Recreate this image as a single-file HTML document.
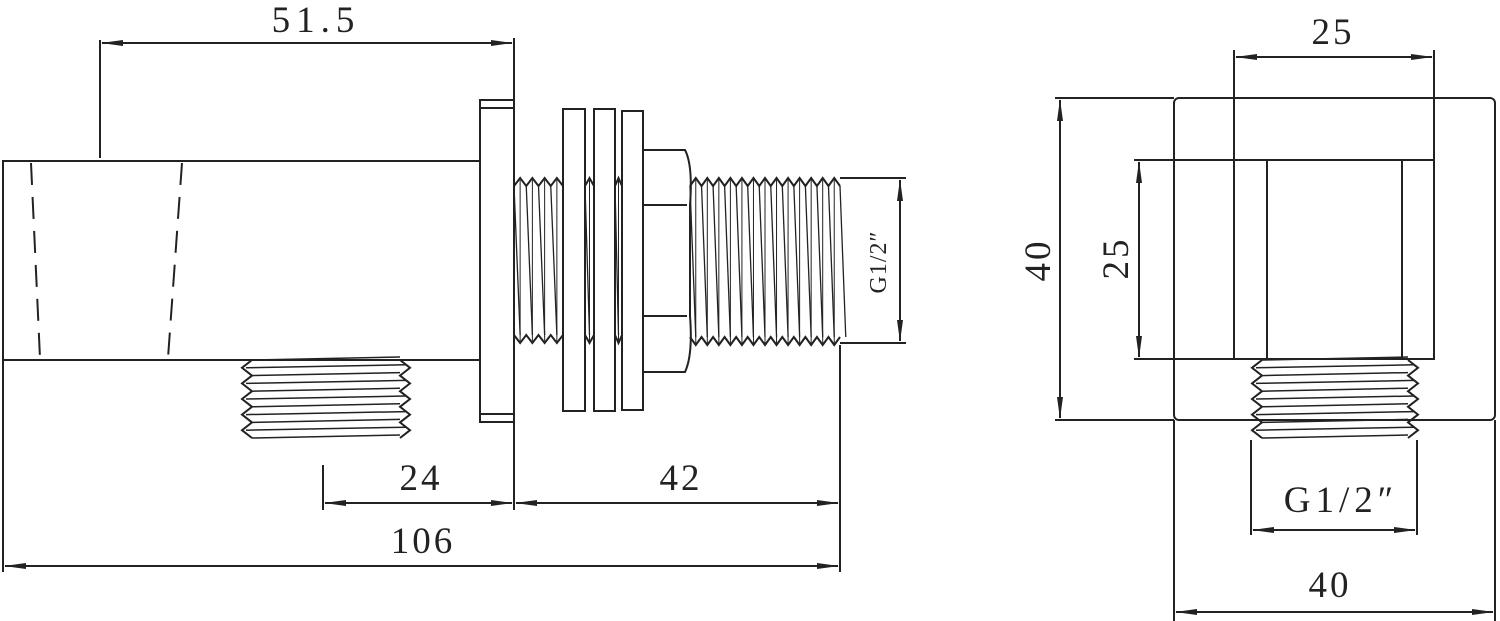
<!DOCTYPE html>
<html><head><meta charset="utf-8"><style>
html,body{margin:0;padding:0;background:#fff;}
svg{display:block}
text{font-family:"Liberation Serif",serif;fill:#222}
</style></head><body>
<svg id="s" width="1500" height="621" viewBox="0 0 1500 621" xmlns="http://www.w3.org/2000/svg">
<defs>
<marker id="a" markerWidth="22" markerHeight="8" refX="21" refY="4" orient="auto" markerUnits="userSpaceOnUse"><path d="M0,1 L22,4 L0,7 Z" fill="#222"/></marker>
<marker id="b" markerWidth="22" markerHeight="8" refX="1" refY="4" orient="auto" markerUnits="userSpaceOnUse"><path d="M22,1 L0,4 L22,7 Z" fill="#222"/></marker>
</defs>
<g stroke="#222" stroke-width="2" fill="none" id="g">
<rect x="3" y="161" width="477" height="199"/>
<line x1="31" y1="163" x2="40" y2="358" stroke-dasharray="22,12"/>
<line x1="182" y1="163" x2="168" y2="358" stroke-dasharray="22,12"/>
<rect x="480" y="100" width="34" height="322"/>
<line x1="480" y1="108" x2="514" y2="108"/>
<line x1="480" y1="414" x2="514" y2="414"/>
<path d="M643,150 L685,150 Q693,165 690,205 Q690,240 690,260 Q690,300 690,316 Q693,355 685,372 L643,372"/>
<line x1="643" y1="205" x2="687" y2="205"/>
<line x1="643" y1="316" x2="687" y2="316"/>
<line x1="100" y1="40" x2="100" y2="158"/>
<line x1="514" y1="38" x2="514" y2="100"/>
<line x1="102" y1="43" x2="512" y2="43" marker-start="url(#b)" marker-end="url(#a)"/>
<line x1="840" y1="178" x2="906" y2="178"/>
<line x1="840" y1="343" x2="906" y2="343"/>
<line x1="900" y1="180" x2="900" y2="341" marker-start="url(#b)" marker-end="url(#a)"/>
<line x1="323" y1="465" x2="323" y2="510"/>
<line x1="514" y1="422" x2="514" y2="510"/>
<line x1="840" y1="345" x2="840" y2="572"/>
<line x1="3" y1="360" x2="3" y2="572"/>
<line x1="325" y1="503" x2="512" y2="503" marker-start="url(#b)" marker-end="url(#a)"/>
<line x1="516" y1="503" x2="838" y2="503" marker-start="url(#b)" marker-end="url(#a)"/>
<line x1="5" y1="566" x2="838" y2="566" marker-start="url(#b)" marker-end="url(#a)"/>
<rect x="1174" y="98" width="321" height="322" rx="5"/>
<line x1="1055" y1="98" x2="1174" y2="98"/>
<line x1="1055" y1="420" x2="1174" y2="420"/>
<line x1="1060" y1="100" x2="1060" y2="418" marker-start="url(#b)" marker-end="url(#a)"/>
<rect x="1234" y="160" width="200" height="199"/>
<line x1="1267" y1="160" x2="1267" y2="359"/>
<line x1="1402" y1="160" x2="1402" y2="359"/>
<line x1="1134" y1="160" x2="1234" y2="160"/>
<line x1="1134" y1="359" x2="1234" y2="359"/>
<line x1="1139" y1="162" x2="1139" y2="357" marker-start="url(#b)" marker-end="url(#a)"/>
<line x1="1234" y1="50" x2="1234" y2="160"/>
<line x1="1434" y1="50" x2="1434" y2="160"/>
<line x1="1236" y1="57" x2="1432" y2="57" marker-start="url(#b)" marker-end="url(#a)"/>
<line x1="1251" y1="440" x2="1251" y2="535"/>
<line x1="1417" y1="440" x2="1417" y2="535"/>
<line x1="1253" y1="530" x2="1415" y2="530" marker-start="url(#b)" marker-end="url(#a)"/>
<line x1="1174" y1="420" x2="1174" y2="621"/>
<line x1="1495" y1="420" x2="1495" y2="621"/>
<line x1="1176" y1="612" x2="1493" y2="612" marker-start="url(#b)" marker-end="url(#a)"/>
</g>
<g font-size="37" text-anchor="middle" letter-spacing="3">
<text x="316" y="32" letter-spacing="6">51.5</text>
<text x="421" y="490">24</text>
<text x="681" y="490">42</text>
<text x="423" y="553">106</text>
<text x="1333" y="44">25</text>
<text x="1341" y="512" letter-spacing="5">G1/2″</text>
<text x="1330" y="597">40</text>
<text transform="translate(1050,260) rotate(-90)">40</text>
<text transform="translate(1128,258) rotate(-90)">25</text>
<text transform="translate(886,262) rotate(-90)" font-size="24" letter-spacing="1">G1/2″</text>
</g>
</svg>
<script>
var g=document.getElementById('g'),NS='http://www.w3.org/2000/svg';
function p(d,w){var e=document.createElementNS(NS,'path');e.setAttribute('d',d);if(w)e.setAttribute('stroke-width',w);g.appendChild(e);}
function vt(x0,x1,yt,yb,n){var s=(x1-x0)/n,d='M'+x0+','+(yt+8),e='M'+x0+','+(yb-8);
for(var i=0;i<n;i++){var xa=x0+i*s;d+=' L'+(xa+s/2)+','+yt+' L'+(xa+s)+','+(yt+8);e+=' L'+(xa+s/2)+','+yb+' L'+(xa+s)+','+(yb-8);}
p(d);p(e);for(var i=0;i<=n;i++){var x=x0+i*s;p('M'+x+','+(yt+8)+' L'+(x+s/2)+','+(yb-8),1.3);if(i<n)p('M'+(x+s/2)+','+(yt+2)+' L'+(x+s/2)+','+(yb-2),1);}}
vt(514,563,178,343,4);
vt(585,594,178,343,1);
vt(615,622,178,343,1);
vt(690,840,178,345,13);
// washers drawn over thread
function r(x,y,w,h){var e=document.createElementNS(NS,'rect');e.setAttribute('x',x);e.setAttribute('y',y);e.setAttribute('width',w);e.setAttribute('height',h);e.setAttribute('fill','#fff');g.appendChild(e);}
r(563,109,22,302);r(594,109,21,302);r(622,111,21,299);
function ht(x0,x1,y0,y1,n){var s=(y1-y0)/n,d='M'+(x0+10)+','+y0,e='M'+(x1-10)+','+y0;
for(var i=0;i<n;i++){var ya=y0+i*s;d+=' L'+x0+','+(ya+s/2)+' L'+(x0+10)+','+(ya+s);e+=' L'+x1+','+(ya+s/2)+' L'+(x1-10)+','+(ya+s);}
p(d);p(e);for(var i=0;i<=n;i++){var y=y0+i*s;p('M'+(x0+10)+','+y+' L'+(x1-10)+','+(y-3),1.5);if(i<n)p('M'+(x0+4)+','+(y+s/2)+' L'+(x1-4)+','+(y+s/2-3),1.5);}}
ht(242,410,360,438,5);
ht(1252,1418,360,438,5);
</script>
</body></html>
